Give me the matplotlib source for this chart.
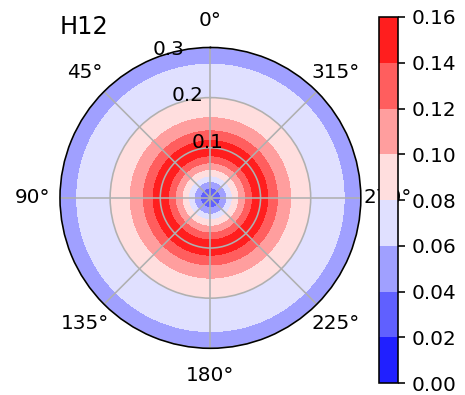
import numpy as np
from matplotlib import pyplot as plt

# radial profile (value only depends on radius)
radii = [0.00, 0.01, 0.02, 0.03, 0.04, 0.05, 0.06, 0.07, 0.08, 0.09,
         0.10, 0.11, 0.12, 0.13, 0.14, 0.15, 0.16, 0.17, 0.18, 0.19,
         0.20, 0.21, 0.22, 0.23, 0.24, 0.25, 0.26, 0.27, 0.28, 0.29, 0.30]
profile = [0.030, 0.034, 0.040, 0.055, 0.074, 0.090, 0.105, 0.120, 0.135, 0.148,
           0.152, 0.145, 0.133, 0.123, 0.115, 0.107, 0.100, 0.095, 0.090, 0.085,
           0.080, 0.077, 0.074, 0.071, 0.068, 0.065, 0.062, 0.059, 0.056, 0.053, 0.050]
levels = [0.00, 0.02, 0.04, 0.06, 0.08, 0.10, 0.12, 0.14, 0.16]
rticks = [0.1, 0.2, 0.3]
title = "H12"

theta = np.linspace(0, 2 * np.pi, 361)
R, T = np.meshgrid(radii, theta)
Z = np.tile(profile, (len(theta), 1))

fig = plt.figure(figsize=(465 / 144, 395 / 144), dpi=144)
ax = fig.add_axes([0.129, 0.118, 0.647, 0.762], projection='polar')
cbax = fig.add_axes([0.815, 0.030, 0.041, 0.927])

cs = ax.contourf(T, R, Z, levels=levels, cmap='bwr')
ax.set_theta_zero_location('N')
ax.set_ylim(0, 0.3)
ax.set_rticks(rticks)
ax.grid(True)
ax.tick_params(axis='x', pad=3)
# title sits level with the 0° label
ax.set_title(title, loc='left', y=1.045, pad=0)

cb = fig.colorbar(cs, cax=cbax)
cb.set_ticks(levels)
cb.ax.set_yticklabels(["%.2f" % v for v in levels])

fig.savefig("out.png", dpi=144)
